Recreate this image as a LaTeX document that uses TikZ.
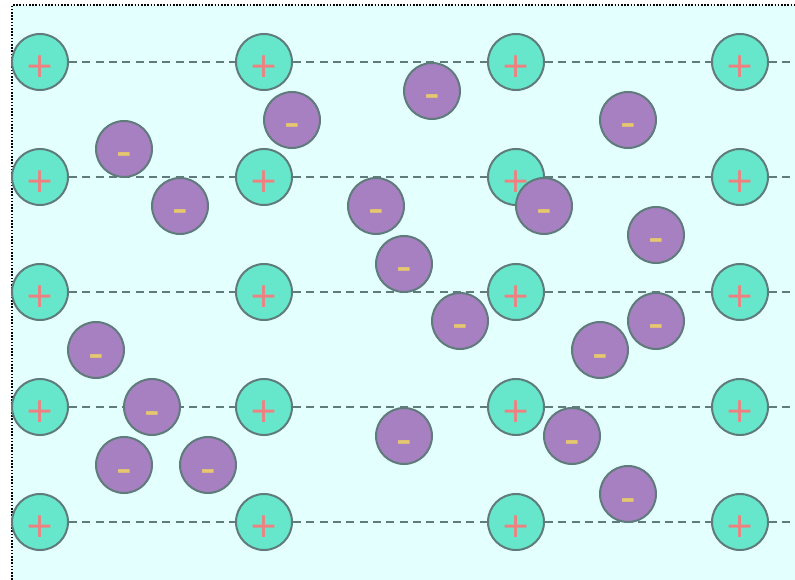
\documentclass[tikz,border=0pt]{standalone}
\usepackage{fontspec}
\setsansfont{DejaVu Sans}
\usetikzlibrary{positioning}

\definecolor{bgcyan}{HTML}{E3FFFE}
\definecolor{ionrim}{HTML}{5F7B7B}
\definecolor{cationfill}{HTML}{66E6CB}
\definecolor{anionfill}{HTML}{A680C0}
\definecolor{plusred}{HTML}{F08080}
\definecolor{minusgold}{HTML}{E6C86E}

\begin{document}
\begin{tikzpicture}[
  x=0.75pt, y=-0.75pt,
  cation/.style={circle, draw=ionrim, line width=1.5pt, fill=cationfill,
    minimum size=42pt, inner sep=0pt, text=plusred, font=\sffamily\fontsize{26}{26}\selectfont},
  anion/.style={circle, draw=ionrim, line width=1.5pt, fill=anionfill,
    minimum size=42pt, inner sep=0pt, text=minusgold, font=\sffamily\bfseries\fontsize{22}{22}\selectfont},
  bond/.style={draw=ionrim, line width=1.5pt, dash pattern=on 6pt off 4pt}
]

% frame
\useasboundingbox (0,0) rectangle (795,580);
\fill[bgcyan] (12,5) rectangle (795,580);
\draw[black, line width=1.2pt, dash pattern=on 1.2pt off 1.2pt] (12,580) -- (12,5) -- (795,5);

% cation lattice
\foreach \col/\x in {1/40, 2/264, 3/516, 4/740}
  \foreach \row/\y in {1/62, 2/177, 3/292, 4/407, 5/522}
    \node[cation] (p-\col-\row) at (\x,\y) {\raisebox{-11.5pt}[0pt][0pt]{+}};

% lattice rows
\foreach \row/\y in {1/62, 2/177, 3/292, 4/407, 5/522} {
  \coordinate (edge-\row) at (795,\y);
  \draw[bond] (p-1-\row) -- (p-2-\row);
  \draw[bond] (p-2-\row) -- (p-3-\row);
  \draw[bond] (p-3-\row) -- (p-4-\row);
  \draw[bond] (p-4-\row) -- (edge-\row);
}

% free anions
\foreach \i/\x/\y in {1/432/91, 2/292/120, 3/628/120, 4/124/149, 5/180/206,
    6/376/206, 7/544/206, 8/656/235, 9/404/264, 10/460/321, 11/656/321,
    12/96/350, 13/600/350, 14/152/407, 15/404/436, 16/572/436, 17/124/465,
    18/208/465, 19/628/494}
  \node[anion] (m-\i) at (\x,\y) {\raisebox{-10.5pt}[0pt][0pt]{--}};

\end{tikzpicture}
\end{document}
